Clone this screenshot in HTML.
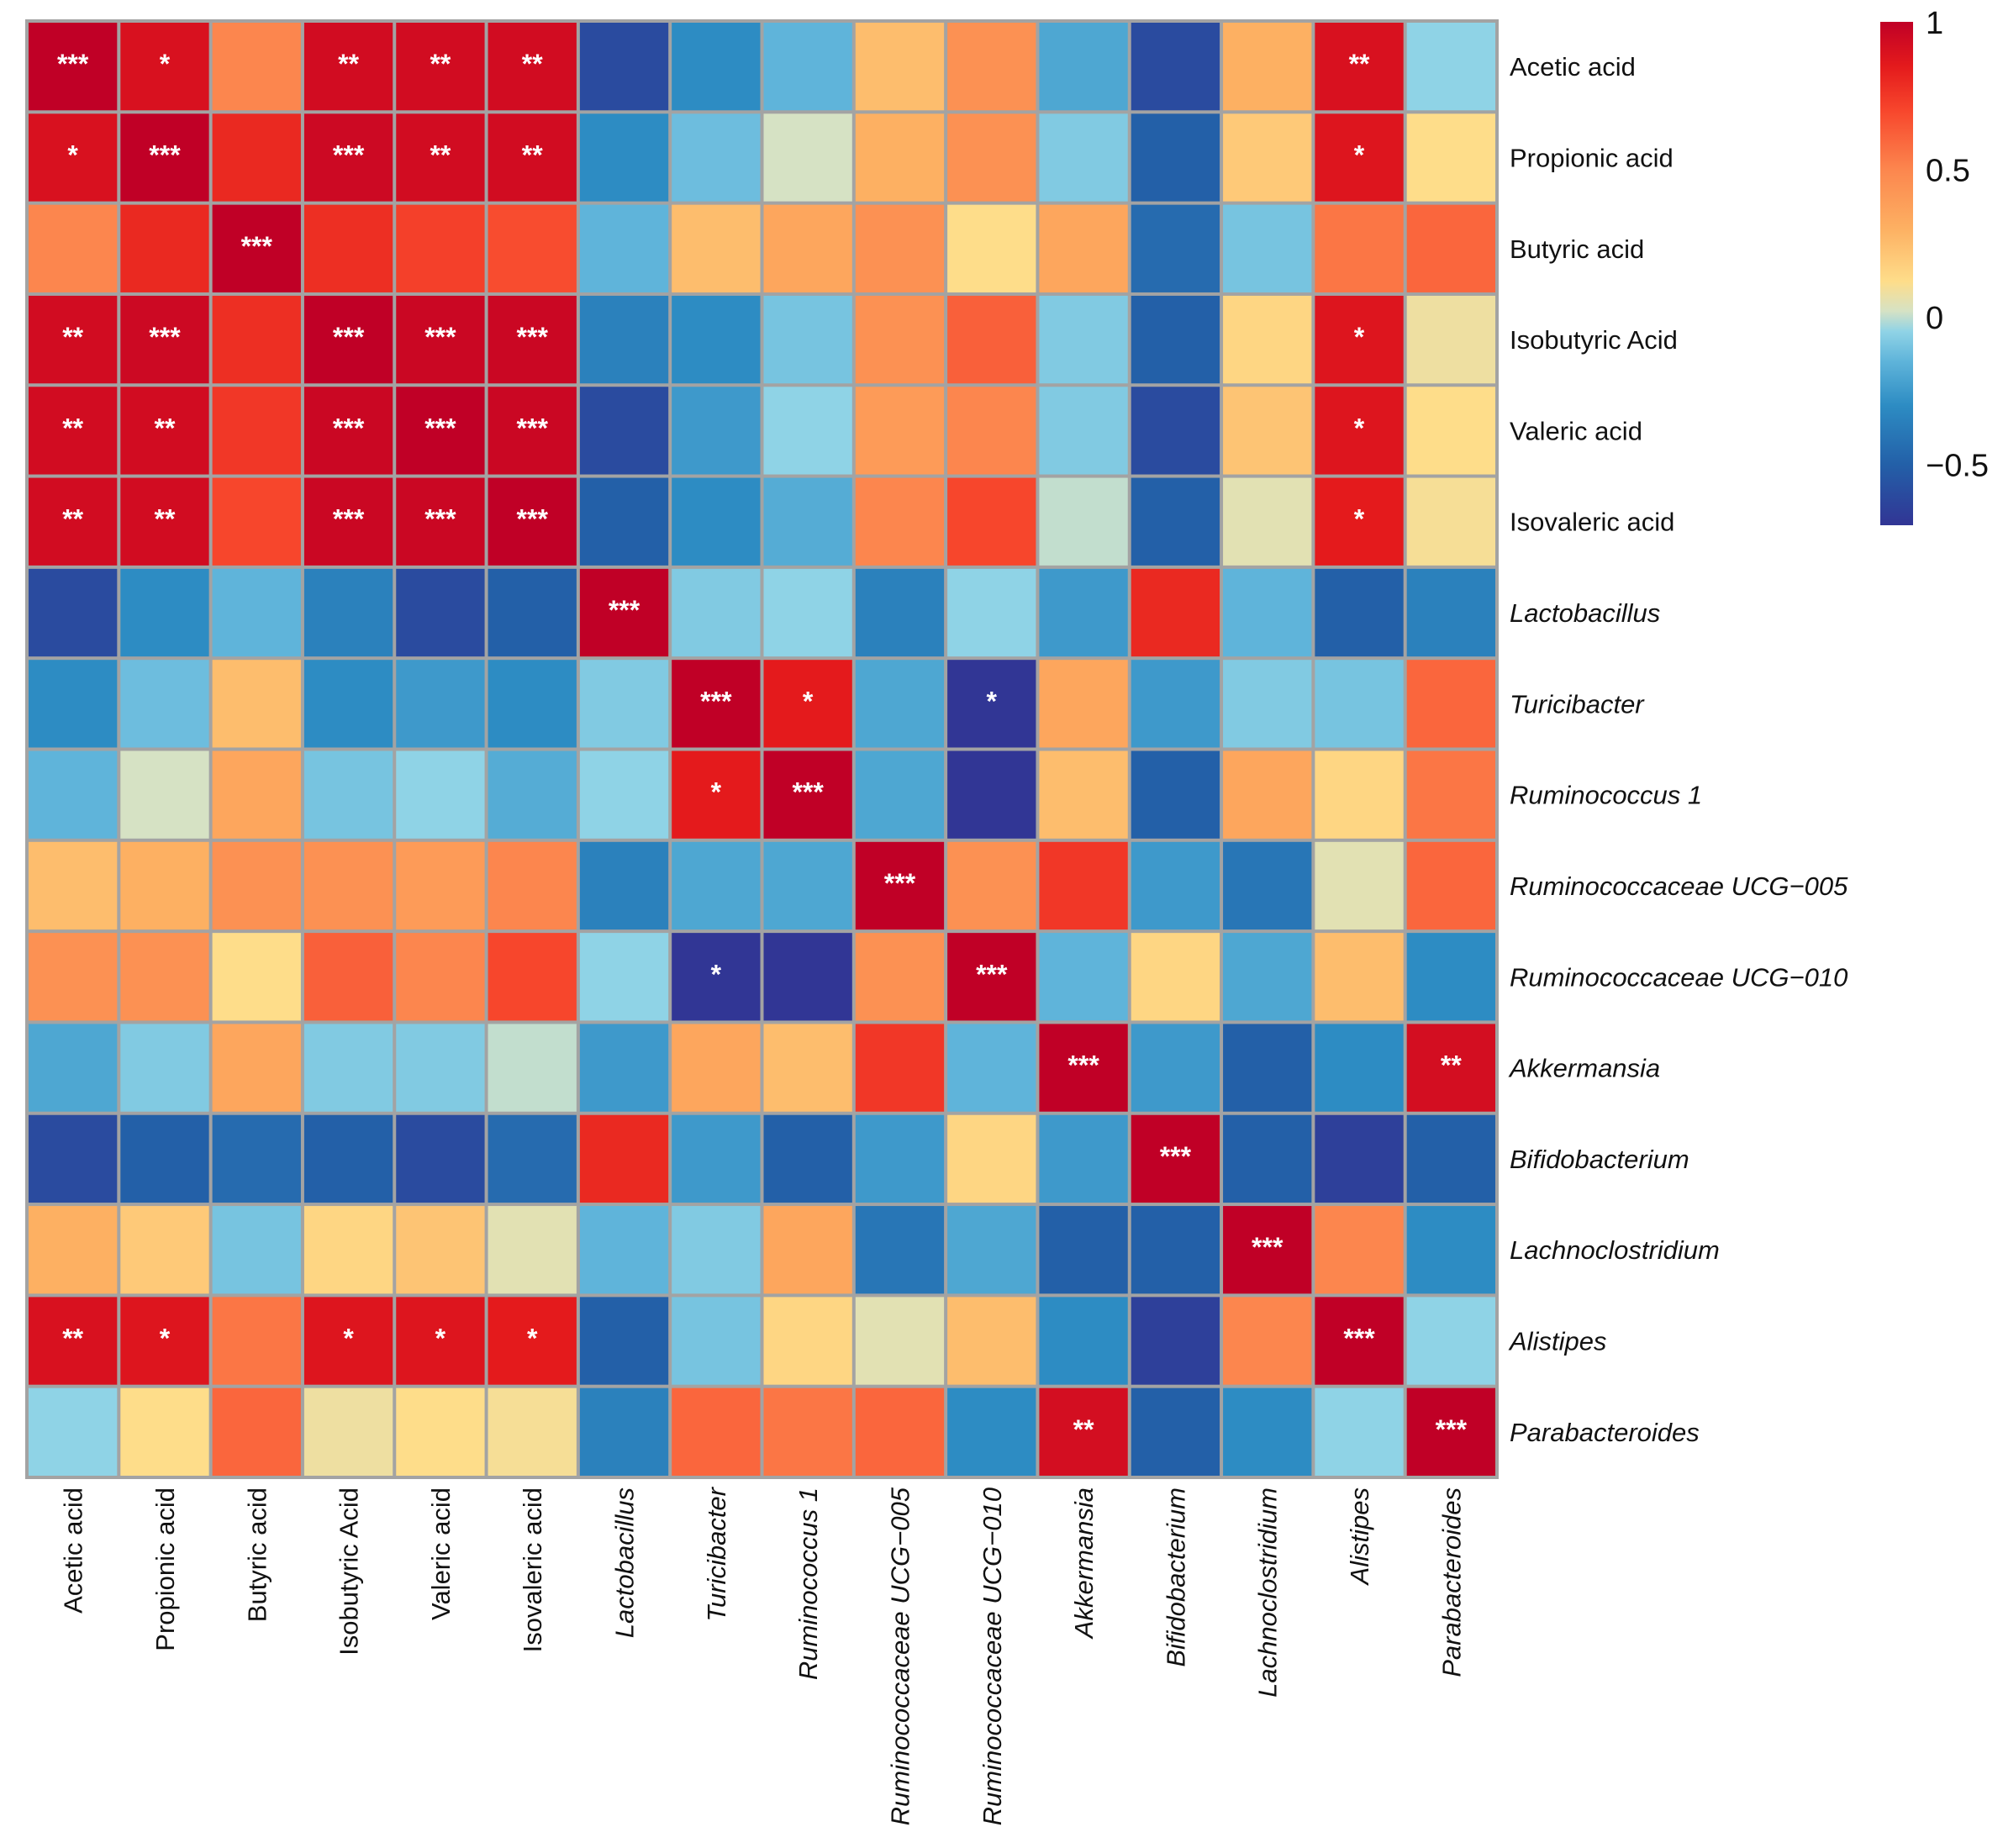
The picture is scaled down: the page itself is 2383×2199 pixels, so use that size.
<!DOCTYPE html>
<html><head><meta charset="utf-8"><style>
html,body{margin:0;padding:0;background:#fff;}
svg{display:block;font-family:"Liberation Sans",Arial,sans-serif;}
</style></head><body>
<svg id="chart" width="2383" height="2199" viewBox="0 0 2383 2199" xmlns="http://www.w3.org/2000/svg">
<defs>
<linearGradient id="cbgrad" x1="0" y1="1" x2="0" y2="0"></linearGradient>
</defs>
<g id="cells"></g>
<g id="labels"></g>
<g id="legend"></g>
</svg>
<script>
const rowLabels = ["Acetic acid","Propionic acid","Butyric acid","Isobutyric Acid","Valeric acid","Isovaleric acid","Lactobacillus","Turicibacter","Ruminococcus 1","Ruminococcaceae UCG\u2212005","Ruminococcaceae UCG\u2212010","Akkermansia","Bifidobacterium","Lachnoclostridium","Alistipes","Parabacteroides"];
const italicFlags = [0,0,0,0,0,0,1,1,1,1,1,1,1,1,1,1];
const values = [
[1,0.9,0.5,0.93,0.93,0.93,-0.6,-0.3,-0.15,0.25,0.45,-0.2,-0.6,0.3,0.9,-0.05],
[0.9,1,0.8,0.95,0.93,0.93,-0.3,-0.12,0.02,0.3,0.45,-0.08,-0.5,0.2,0.88,0.12],
[0.5,0.8,1,0.78,0.72,0.68,-0.15,0.25,0.35,0.45,0.12,0.35,-0.45,-0.1,0.55,0.6],
[0.93,0.95,0.78,1,0.96,0.96,-0.35,-0.3,-0.1,0.45,0.62,-0.08,-0.5,0.15,0.88,0.08],
[0.93,0.93,0.75,0.96,1,0.96,-0.6,-0.25,-0.05,0.4,0.5,-0.08,-0.6,0.22,0.88,0.12],
[0.93,0.93,0.7,0.96,0.96,1,-0.5,-0.3,-0.18,0.5,0.7,0.0,-0.5,0.05,0.85,0.1],
[-0.6,-0.3,-0.15,-0.35,-0.6,-0.5,1,-0.08,-0.05,-0.35,-0.05,-0.25,0.8,-0.15,-0.5,-0.35],
[-0.3,-0.12,0.25,-0.3,-0.25,-0.3,-0.08,1,0.85,-0.2,-0.7,0.35,-0.25,-0.08,-0.1,0.6],
[-0.15,0.02,0.35,-0.1,-0.05,-0.18,-0.05,0.85,1,-0.2,-0.7,0.25,-0.5,0.35,0.15,0.55],
[0.25,0.3,0.45,0.45,0.4,0.5,-0.35,-0.2,-0.2,1,0.45,0.75,-0.25,-0.4,0.05,0.6],
[0.45,0.45,0.12,0.62,0.5,0.7,-0.05,-0.7,-0.7,0.45,1,-0.15,0.15,-0.2,0.25,-0.3],
[-0.2,-0.08,0.35,-0.08,-0.08,0.0,-0.25,0.35,0.25,0.75,-0.15,1,-0.25,-0.5,-0.3,0.92],
[-0.6,-0.5,-0.45,-0.5,-0.6,-0.45,0.8,-0.25,-0.5,-0.25,0.15,-0.25,1,-0.5,-0.65,-0.5],
[0.3,0.2,-0.1,0.15,0.22,0.05,-0.15,-0.08,0.35,-0.4,-0.2,-0.5,-0.5,1,0.5,-0.3],
[0.9,0.88,0.55,0.88,0.88,0.85,-0.5,-0.1,0.15,0.05,0.25,-0.3,-0.65,0.5,1,-0.05],
[-0.05,0.12,0.6,0.08,0.12,0.1,-0.35,0.6,0.55,0.6,-0.3,0.92,-0.5,-0.3,-0.05,1]
];
const stars = [
["***","*","","**","**","**","","","","","","","","","**",""],
["*","***","","***","**","**","","","","","","","","","*",""],
["","","***","","","","","","","","","","","","",""],
["**","***","","***","***","***","","","","","","","","","*",""],
["**","**","","***","***","***","","","","","","","","","*",""],
["**","**","","***","***","***","","","","","","","","","*",""],
["","","","","","","***","","","","","","","","",""],
["","","","","","","","***","*","","*","","","","",""],
["","","","","","","","*","***","","","","","","",""],
["","","","","","","","","","***","","","","","",""],
["","","","","","","","*","","","***","","","","",""],
["","","","","","","","","","","","***","","","","**"],
["","","","","","","","","","","","","***","","",""],
["","","","","","","","","","","","","","***","",""],
["**","*","","*","*","*","","","","","","","","","***",""],
["","","","","","","","","","","","**","","","","***"]
];
const legendTicks = [1,0.5,0,-0.5];
const legendMin = -0.706, legendMax = 1;

const NS="http://www.w3.org/2000/svg";
const gx0=32, gx1=1781, gy0=25, gy1=1758;
const n=rowLabels.length;
const cw=(gx1-gx0)/n, ch=(gy1-gy0)/n;
const xPos=j=>gx0+j*cw, yPos=i=>gy0+i*ch;
const stops=[[-0.7,[49,54,149]],[-0.5,[35,96,168]],[-0.3,[45,140,195]],[-0.15,[95,180,218]],[-0.05,[143,211,230]],[0.02,[214,226,196]],[0.12,[254,221,138]],[0.3,[253,176,98]],[0.5,[252,134,78]],[0.7,[247,70,44]],[0.85,[228,26,28]],[1,[192,0,38]]];
function color(v){
  if(v<=stops[0][0])return "rgb("+stops[0][1]+")";
  for(let k=1;k<stops.length;k++){
    if(v<=stops[k][0]){const a=stops[k-1],b=stops[k];const t=(v-a[0])/(b[0]-a[0]);
      return "rgb("+a[1].map((c,q)=>Math.round(c+(b[1][q]-c)*t)).join(",")+")";}
  }
  return "rgb("+stops[stops.length-1][1]+")";
}
const grad=document.getElementById('cbgrad');
stops.forEach(s=>{
  const st=document.createElementNS(NS,'stop');
  st.setAttribute('offset',Math.max(0,(s[0]-legendMin)/(legendMax-legendMin)));
  st.setAttribute('stop-color','rgb('+s[1]+')');
  grad.appendChild(st);
});
const cells=document.getElementById('cells');
const bg=document.createElementNS(NS,'rect');
bg.setAttribute('x',gx0-2);bg.setAttribute('y',gy0-2);bg.setAttribute('width',gx1-gx0+4);bg.setAttribute('height',gy1-gy0+4);bg.setAttribute('fill','#a3a3a3');


cells.appendChild(bg);
for(let i=0;i<n;i++){for(let j=0;j<n;j++){
  const r=document.createElementNS(NS,'rect');
  r.setAttribute('x',xPos(j)+2);r.setAttribute('y',yPos(i)+2);
  r.setAttribute('width',cw-4);r.setAttribute('height',ch-4);
  r.setAttribute('fill',color(values[i][j]));
  
  
  cells.appendChild(r);
  if(stars[i][j]){
    const t=document.createElementNS(NS,'text');
    t.setAttribute('x',xPos(j)+cw/2);t.setAttribute('y',yPos(i)+ch/2+8);
    t.setAttribute('text-anchor','middle');t.setAttribute('fill','#fff');
    t.setAttribute('font-size','32');t.setAttribute('font-weight','bold');
    t.textContent=stars[i][j];
    
    
    cells.appendChild(t);
  }
}}
const labels=document.getElementById('labels');
for(let i=0;i<n;i++){
  const t=document.createElementNS(NS,'text');
  t.setAttribute('x',1796);t.setAttribute('y',yPos(i)+ch/2+11);
  t.setAttribute('font-size','31');t.setAttribute('fill','#111');
  if(italicFlags[i])t.setAttribute('font-style','italic');
  t.textContent=rowLabels[i];
  
  
  labels.appendChild(t);
  const c=document.createElementNS(NS,'text');
  const cx=xPos(i)+cw/2+11, cy=gy1+12;
  c.setAttribute('x',cx);c.setAttribute('y',cy);
  c.setAttribute('transform','rotate(-90 '+cx+' '+cy+')');
  c.setAttribute('text-anchor','end');
  c.setAttribute('font-size','31');c.setAttribute('fill','#111');
  if(italicFlags[i])c.setAttribute('font-style','italic');
  c.textContent=rowLabels[i];
  
  
  labels.appendChild(c);
}
const lg=document.getElementById('legend');
const ly0=26, ly1=625, lx=2237, lw=39;
const lyPos=v=>ly1-(v-legendMin)/(legendMax-legendMin)*(ly1-ly0);
const bar=document.createElementNS(NS,'rect');
bar.setAttribute('x',lx);bar.setAttribute('y',ly0);bar.setAttribute('width',lw);bar.setAttribute('height',ly1-ly0);bar.setAttribute('fill','url(#cbgrad)');


lg.appendChild(bar);
legendTicks.forEach(v=>{
  const t=document.createElementNS(NS,'text');
  t.setAttribute('x',2291);t.setAttribute('y',lyPos(v)+14);
  t.setAttribute('font-size','38');t.setAttribute('fill','#111');
  t.textContent=v<0?'\u2212'+Math.abs(v):String(v);
  
  
  lg.appendChild(t);
});
</script>
</body></html>
